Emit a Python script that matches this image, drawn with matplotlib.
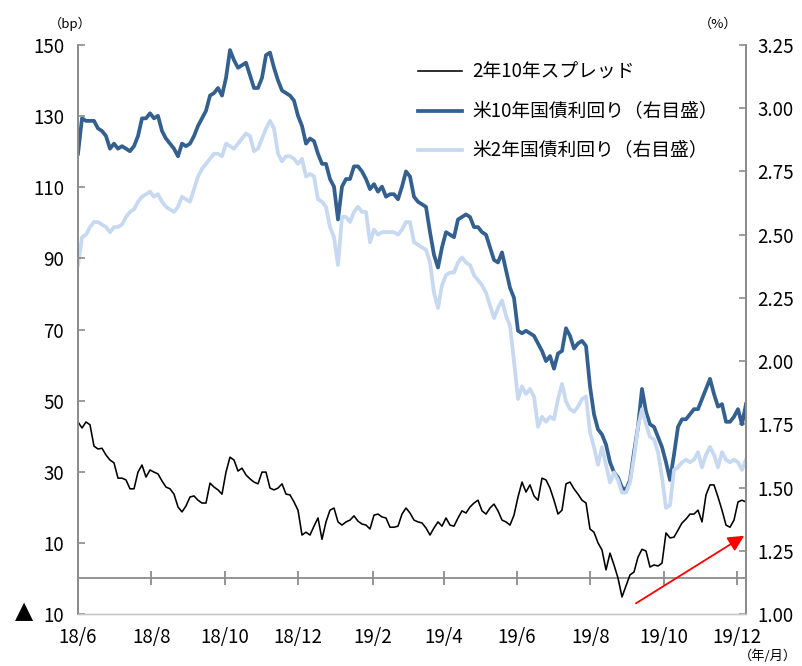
import matplotlib
matplotlib.use("Agg")
import matplotlib.pyplot as plt
from matplotlib.lines import Line2D
import pandas as pd

plt.rcParams['font.family'] = ['Noto Sans CJK JP', 'DejaVu Sans']

# Period covered by the series (roughly every 3-4 days)
start_date = '2018-06-01'
end_date = '2019-12-08 12:00'

# US 10-year Treasury yield (%), right axis
ust10 = [
    2.82, 2.96, 2.95, 2.95, 2.95, 2.92, 2.91, 2.89, 2.84, 2.86, 2.84, 2.85,
    2.84, 2.83, 2.85, 2.89, 2.96, 2.96, 2.98, 2.96, 2.97, 2.91, 2.88, 2.86,
    2.84, 2.81, 2.86, 2.85, 2.86, 2.89, 2.93, 2.96, 2.99, 3.05, 3.06, 3.08,
    3.05, 3.12, 3.23, 3.19, 3.16, 3.17, 3.18, 3.13, 3.08, 3.08, 3.12, 3.21,
    3.22, 3.16, 3.11, 3.07, 3.06, 3.05, 3.03, 2.97, 2.93, 2.86, 2.88, 2.87,
    2.82, 2.78, 2.78, 2.72, 2.69, 2.56, 2.69, 2.72, 2.72, 2.77, 2.77, 2.75,
    2.72, 2.68, 2.70, 2.67, 2.69, 2.65, 2.66, 2.66, 2.64, 2.69, 2.75, 2.73,
    2.65, 2.63, 2.62, 2.61, 2.51, 2.42, 2.37, 2.45, 2.51, 2.50, 2.49, 2.56,
    2.57, 2.58, 2.57, 2.53, 2.53, 2.51, 2.50, 2.45, 2.40, 2.39, 2.43, 2.36,
    2.29, 2.25, 2.12, 2.11, 2.12, 2.11, 2.10, 2.07, 2.04, 2.00, 2.02, 1.97,
    2.03, 2.04, 2.13, 2.10, 2.05, 2.07, 2.08, 2.06, 1.90, 1.79, 1.73, 1.71,
    1.67, 1.60, 1.56, 1.54, 1.50, 1.49, 1.53, 1.64, 1.74, 1.89, 1.80, 1.75,
    1.74, 1.70, 1.66, 1.60, 1.53, 1.63, 1.74, 1.77, 1.77, 1.79, 1.81, 1.81,
    1.85, 1.89, 1.93, 1.87, 1.82, 1.83, 1.76, 1.76, 1.78, 1.81, 1.75, 1.83,
]

# US 2-year Treasury yield (%), right axis
ust2 = [
    2.38, 2.49, 2.50, 2.53, 2.55, 2.55, 2.54, 2.53, 2.51, 2.53, 2.53, 2.54,
    2.57, 2.59, 2.60, 2.63, 2.65, 2.66, 2.67, 2.65, 2.66, 2.63, 2.61, 2.60,
    2.59, 2.61, 2.65, 2.64, 2.63, 2.68, 2.73, 2.76, 2.78, 2.80, 2.82, 2.82,
    2.81, 2.86, 2.85, 2.84, 2.86, 2.88, 2.90, 2.89, 2.83, 2.84, 2.88, 2.92,
    2.95, 2.92, 2.82, 2.79, 2.81, 2.81, 2.80, 2.78, 2.80, 2.73, 2.74, 2.73,
    2.64, 2.63, 2.61, 2.53, 2.49, 2.38, 2.57, 2.57, 2.55, 2.59, 2.61, 2.59,
    2.59, 2.47, 2.52, 2.50, 2.51, 2.51, 2.51, 2.51, 2.50, 2.52, 2.55, 2.55,
    2.47, 2.46, 2.45, 2.44, 2.39, 2.27, 2.21, 2.30, 2.34, 2.35, 2.35, 2.39,
    2.41, 2.39, 2.38, 2.34, 2.32, 2.30, 2.27, 2.22, 2.17, 2.21, 2.24, 2.18,
    2.14, 2.00, 1.85, 1.90, 1.87, 1.89, 1.86, 1.74, 1.78, 1.76, 1.78, 1.77,
    1.85, 1.91, 1.84, 1.81, 1.80, 1.82, 1.85, 1.86, 1.72, 1.66, 1.59, 1.66,
    1.59, 1.52, 1.56, 1.53, 1.48, 1.48, 1.52, 1.62, 1.74, 1.81, 1.75, 1.70,
    1.69, 1.64, 1.54, 1.42, 1.43, 1.57, 1.58, 1.60, 1.61, 1.60, 1.61, 1.64,
    1.58, 1.63, 1.66, 1.63, 1.58, 1.64, 1.61, 1.60, 1.61, 1.60, 1.57, 1.61,
]

# 2s10s spread (bp), left axis
spread = [
    44.0, 42.3, 44.0, 43.2, 37.2, 36.4, 36.6, 34.7, 33.3, 32.5, 28.2, 28.2,
    27.7, 25.2, 25.2, 29.9, 31.9, 28.5, 30.5, 29.9, 29.4, 27.4, 25.7, 25.2,
    23.7, 20.1, 18.7, 20.4, 22.9, 23.2, 22.0, 21.2, 21.2, 26.8, 25.7, 24.9,
    23.7, 29.9, 34.1, 33.3, 30.2, 31.0, 29.1, 28.0, 27.1, 26.6, 29.9, 29.9,
    25.4, 24.9, 25.4, 26.6, 23.7, 23.5, 21.5, 19.2, 12.2, 13.0, 12.2, 14.7,
    17.0, 11.0, 15.9, 19.2, 19.8, 15.9, 15.0, 15.9, 16.4, 17.6, 16.1, 15.3,
    15.0, 13.9, 17.8, 18.1, 17.3, 17.0, 14.4, 14.4, 14.7, 18.1, 19.8, 18.4,
    16.4, 15.9, 15.6, 14.2, 12.2, 14.2, 15.9, 14.7, 17.0, 15.0, 14.7, 17.0,
    19.0, 18.4, 20.1, 21.2, 22.0, 19.0, 18.1, 19.8, 20.9, 19.0, 16.4, 15.9,
    15.0, 17.8, 22.9, 27.1, 24.3, 26.3, 23.2, 22.0, 28.2, 27.7, 25.4, 22.0,
    18.1, 19.2, 26.6, 27.1, 25.2, 23.7, 22.0, 21.2, 13.9, 13.0, 10.0, 8.0,
    2.4, 7.1, 3.8, 0.1, -5.2, -2.1, 1.0, 1.8, 6.0, 8.2, 7.7, 3.2,
    3.8, 3.5, 4.3, 12.8, 11.4, 11.6, 13.6, 15.6, 16.7, 18.1, 18.1, 19.2,
    15.9, 23.5, 26.3, 26.3, 22.9, 19.2, 15.0, 14.4, 16.4, 21.5, 22.0, 21.5,
]

# Axis ticks
bp_ticks = [-10, 10, 30, 50, 70, 90, 110, 130, 150]
bp_labels = ['10', '10', '30', '50', '70', '90', '110', '130', '150']
pct_ticks = [1.00, 1.25, 1.50, 1.75, 2.00, 2.25, 2.50, 2.75, 3.00, 3.25]
month_ticks = ['2018-06-01', '2018-08-01', '2018-10-01', '2018-12-01',
               '2019-02-01', '2019-04-01', '2019-06-01', '2019-08-01',
               '2019-10-01', '2019-12-01']
month_labels = ['18/6', '18/8', '18/10', '18/12', '19/2', '19/4',
                '19/6', '19/8', '19/10', '19/12']

legend_labels = ['2年10年スプレッド', '米10年国債利回り（右目盛）', '米2年国債利回り（右目盛）']

# Trend arrow (date, bp)
arrow_from = ('2019-09-08', -7.0)
arrow_to = ('2019-12-07', 12.0)

dates_10 = pd.date_range(start_date, end_date, periods=len(ust10))
dates_2 = pd.date_range(start_date, end_date, periods=len(ust2))
dates_sp = pd.date_range(start_date, end_date, periods=len(spread))

C10 = '#34608F'
C2 = '#C6D9F1'
GRAY = '#8C8C8C'
FS = 13.5

fig = plt.figure(figsize=(8.02, 6.66), dpi=100)
ax = fig.add_axes([78 / 802, 52 / 666, 668 / 802, 569 / 666])
ax2 = ax.twinx()

# Draw the spread above the yield lines
ax.set_zorder(ax2.get_zorder() + 1)
ax.patch.set_visible(False)

ax2.plot(dates_10, ust10, color=C10, lw=2.7, solid_joinstyle='round')
ax2.plot(dates_2, ust2, color=C2, lw=2.7, solid_joinstyle='round')
ax.plot(dates_sp, spread, color='black', lw=1.15)

ax.set_xlim(pd.Timestamp(start_date), pd.Timestamp(end_date))
ax.set_ylim(-10, 150)
ax2.set_ylim(1.00, 3.25)

# Spines
for a in (ax, ax2):
    a.spines['top'].set_visible(False)
    a.spines['left'].set_color(GRAY)
    a.spines['right'].set_color(GRAY)
    a.spines['left'].set_linewidth(1.3)
    a.spines['right'].set_linewidth(1.3)
    a.spines['bottom'].set_color('#C8C8C8')
    a.spines['bottom'].set_linewidth(1.0)

ax.set_yticks(bp_ticks)
ax.set_yticklabels(bp_labels)
ax.tick_params(axis='y', direction='in', length=5, width=1.2, color=GRAY,
               labelsize=FS, pad=10)
ax2.set_yticks(pct_ticks)
ax2.set_yticklabels([f'{v:.2f}' for v in pct_ticks])
ax2.tick_params(axis='y', direction='in', length=5, width=1.2, color=GRAY,
                labelsize=FS, pad=8)

# Negative marker in front of the lowest left tick label
fig.text(24 / 802, 1 - 611 / 666, '▲', ha='center', va='center',
         fontsize=17, family='DejaVu Sans')

ax.set_xticks(pd.to_datetime(month_ticks))
ax.set_xticklabels(month_labels)
ax.tick_params(axis='x', length=0, labelsize=FS, pad=9)
ax2.tick_params(axis='x', length=0)

# Zero line with month tick marks
zero_frac = (0 - (-10)) / (150 - (-10))
zax = ax.secondary_xaxis(zero_frac)
zax.set_xticks(pd.to_datetime(month_ticks[1:]))
zax.set_xticklabels([])
zax.tick_params(axis='x', direction='inout', length=10, width=1.3, color=GRAY)
zax.spines['bottom'].set_color(GRAY)
zax.spines['bottom'].set_linewidth(1.3)
for s in ('top', 'left', 'right'):
    zax.spines[s].set_visible(False)

# Unit labels
fig.text(70 / 802, 1 - 24 / 666, '（bp）', ha='center', va='center', fontsize=9.5)
fig.text(718 / 802, 1 - 24 / 666, '（%）', ha='center', va='center', fontsize=9.5)
fig.text(768 / 802, 1 - 656 / 666, '（年/月）', ha='center', va='center', fontsize=9.5)

# Legend
handles = [
    Line2D([], [], color='black', lw=1.15),
    Line2D([], [], color=C10, lw=2.7),
    Line2D([], [], color=C2, lw=2.7),
]
ax.legend(handles, legend_labels, loc='upper left',
          bbox_to_anchor=((418 - 78) / 668, (614 - 62) / 569),
          frameon=False, fontsize=FS, handlelength=2.35, handletextpad=0.55,
          labelspacing=0.97, borderpad=0, borderaxespad=0)

# Trend arrow
ax.annotate('', xy=(pd.Timestamp(arrow_to[0]), arrow_to[1]),
            xytext=(pd.Timestamp(arrow_from[0]), arrow_from[1]),
            arrowprops=dict(arrowstyle='-|>', color='#FF0000', lw=1.3,
                            mutation_scale=24, shrinkA=0, shrinkB=0),
            annotation_clip=False)

fig.savefig('out.png', dpi=100)
